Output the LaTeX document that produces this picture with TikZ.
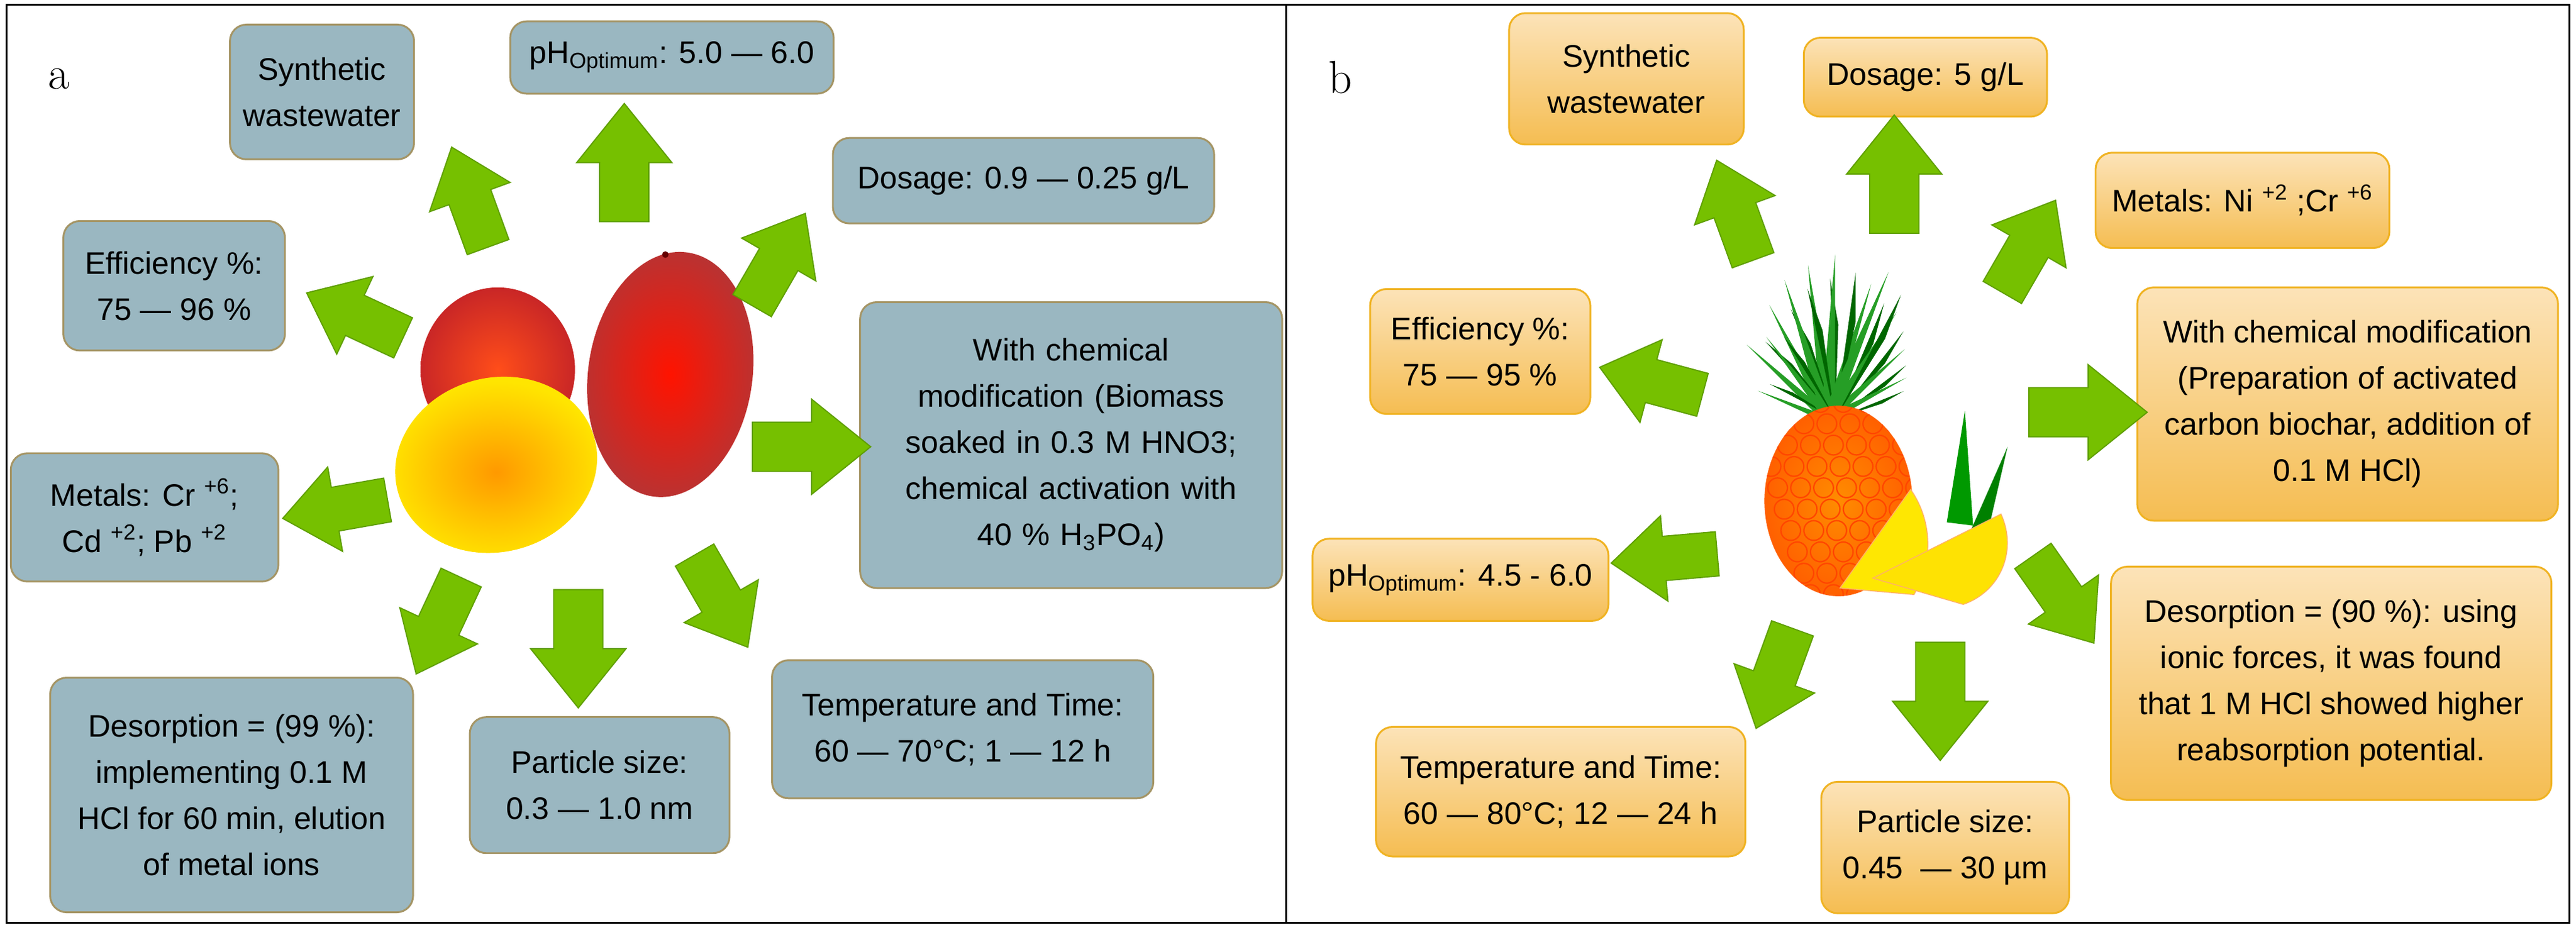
\documentclass[tikz,border=0pt]{standalone}
\usepackage{fontspec}
\setmainfont{Liberation Sans}
\newfontfamily\lbl{Latin Modern Roman}
\definecolor{gr}{HTML}{76C000}
\definecolor{grd}{HTML}{5E9E00}
\definecolor{bbox}{HTML}{9AB7C1}
\definecolor{bbord}{HTML}{A59565}
\definecolor{otop}{HTML}{FCE3B8}
\definecolor{obot}{HTML}{F5BD52}
\definecolor{obord}{HTML}{F0B323}
\begin{document}
\begin{tikzpicture}[x=0.025cm,y=-0.025cm,
  txt/.style={align=center,font=\fontsize{13.5}{20}\selectfont,rounded corners=0.25cm,inner sep=2pt},
  ba/.style={txt,fill=bbox,draw=bbord,line width=0.8pt},
  bb/.style={txt,top color=otop,bottom color=obot,draw=obord,line width=0.8pt},
  garrow/.pic={\filldraw[fill=gr,draw=grd,line width=0.5pt] (-36,-15) -- (0,-15) -- (0,-29) -- (36,0) -- (0,29) -- (0,15) -- (-36,15) -- cycle;}]
\useasboundingbox (0,0) rectangle (1568,566.2);
\draw[line width=0.8pt] (4,3) rectangle (1564,562);
\draw[line width=0.8pt] (783,3) -- (783,562);
\node[font=\lbl\fontsize{20}{20}\selectfont] (la) at (36,48) {a};
\node[font=\lbl\fontsize{20}{20}\selectfont] (lb) at (816,47) {b};

% ---- mangoes (panel a)
\shade[inner color=red!55!orange!90,outer color=red!75!black!85] (303,225) ellipse (47 and 50);
\shade[inner color=red!85!orange,outer color=red!65!black!80] (408,228) [rotate around={-8:(408,228)}] ellipse (50 and 75);
\shade[inner color=orange!80!yellow,outer color=yellow!80!orange] (302,283) [rotate around={15:(302,283)}] ellipse (62 and 53);
\fill[red!40!black] (405,155) circle (2);

% ---- pineapple (panel b)
\foreach \a/\l in {100/95,120/80,140/70,75/85,60/75,45/60,90/100,160/50,30/50,110/90,70/95,130/65}{
  \fill[green!40!black] (1117,255) -- ++(-\a+8:\l*0.9) -- ++(-\a+180:\l*0.3) -- cycle;
  \fill[green!55!black!85] (1117,255) -- ++(-\a:\l) -- ++(-\a+185:\l*0.9) -- cycle;
}
\begin{scope}
\clip (1119,305) ellipse (45 and 58);
\shade[inner color=orange!90!yellow,outer color=orange!75!red] (1119,305) ellipse (45 and 58);
\foreach \i in {0,...,7}{\foreach \j in {0,...,9}{
  \draw[orange!55!red,line width=0.6pt] (1066+\i*14+\j*4,245+\j*13) circle (6);}}
\end{scope}
\fill[green!60!black] (1185,318) -- (1196,250) -- (1201,320) -- cycle;
\fill[green!50!black] (1200,322) -- (1222,272) -- (1210,324) -- cycle;
\fill[yellow!90!orange,draw=orange!60] (1120,358) -- (1163,298) .. controls (1175,315) and (1178,340) .. (1165,362) -- cycle;
\fill[yellow!85!orange,draw=orange!60] (1140,352) -- (1218,313) .. controls (1228,335) and (1218,360) .. (1195,368) -- cycle;

% ---- panel a boxes
\node[ba,minimum width=2.8cm,minimum height=2.05cm] (asyn) at (196,56) {Synthetic\\wastewater};
\node[ba,minimum width=4.92cm,minimum height=1.1cm] (aph) at (409,35) {pH\textsubscript{Optimum}: 5.0 — 6.0};
\node[ba,minimum width=5.8cm,minimum height=1.3cm] (ados) at (623,110) {Dosage: 0.9 — 0.25 g/L};
\node[ba,minimum width=3.37cm,minimum height=1.97cm] (aeff) at (106,174) {Efficiency \%:\\75 — 96 \%};
\node[ba,minimum width=6.42cm,minimum height=4.35cm,text width=6.2cm] (achem) at (652,271) {With chemical\\modification (Biomass\\soaked in 0.3 M HNO3;\\chemical activation with\\40 \% H\textsubscript{3}PO\textsubscript{4})};
\node[ba,minimum width=4.07cm,minimum height=1.95cm] (amet) at (88,315) {Metals: Cr \textsuperscript{+6};\\Cd \textsuperscript{+2}; Pb \textsuperscript{+2}};
\node[ba,minimum width=5.52cm,minimum height=3.57cm] (ades) at (141,484) {Desorption = (99 \%):\\implementing 0.1 M\\HCl for 60 min, elution\\of metal ions};
\node[ba,minimum width=3.95cm,minimum height=2.07cm] (apar) at (365,478) {Particle size:\\0.3 — 1.0 nm};
\node[ba,minimum width=5.8cm,minimum height=2.1cm] (atmp) at (586,444) {Temperature and Time:\\60 — 70°C; 1 — 12 h};

% ---- panel a arrows
\pic[rotate=110,scale=0.9] at (286,120) {garrow};
\pic[rotate=90] at (380,99) {garrow};
\pic[rotate=60,scale=0.9] at (474,158) {garrow};
\pic[rotate=155,scale=0.9] at (216,192) {garrow};
\pic[rotate=0] at (494,272) {garrow};
\pic[rotate=190,scale=0.9] at (204,310) {garrow};
\pic[rotate=245,scale=0.9] at (267,381) {garrow};
\pic[rotate=270] at (352,395) {garrow};
\pic[rotate=300,scale=0.9] at (439,366) {garrow};

% ---- panel b boxes
\node[bb,minimum width=3.57cm,minimum height=2cm] (bsyn) at (990,48) {Synthetic\\wastewater};
\node[bb,minimum width=3.7cm,minimum height=1.2cm] (bdos) at (1172,47) {Dosage: 5 g/L};
\node[bb,minimum width=4.47cm,minimum height=1.45cm] (bmet) at (1365,122) {Metals: Ni \textsuperscript{+2} ;Cr \textsuperscript{+6}};
\node[bb,minimum width=3.35cm,minimum height=1.9cm] (beff) at (901,214) {Efficiency \%:\\75 — 95 \%};
\node[bb,minimum width=6.4cm,minimum height=3.55cm] (bchem) at (1429,246) {With chemical modification\\(Preparation of activated\\carbon biochar, addition of\\0.1 M HCl)};
\node[bb,minimum width=4.5cm,minimum height=1.25cm] (bph) at (889,353) {pH\textsubscript{Optimum}: 4.5 - 6.0};
\node[bb,minimum width=6.7cm,minimum height=3.55cm] (bdes) at (1419,416) {Desorption = (90 \%): using\\ionic forces, it was found\\that 1 M HCl showed higher\\reabsorption potential.};
\node[bb,minimum width=5.62cm,minimum height=1.97cm] (btmp) at (950,482) {Temperature and Time:\\60 — 80°C; 12 — 24 h};
\node[bb,minimum width=3.77cm,minimum height=2cm] (bpar) at (1184,516) {Particle size:\\0.45 \ — 30 µm};

% ---- panel b arrows
\pic[rotate=110,scale=0.9] at (1056,128) {garrow};
\pic[rotate=90] at (1153,106) {garrow};
\pic[rotate=60,scale=0.9] at (1235,150) {garrow};
\pic[rotate=165,scale=0.9] at (1005,232) {garrow};
\pic[rotate=0] at (1271,251) {garrow};
\pic[rotate=185,scale=0.9] at (1013,340) {garrow};
\pic[rotate=250,scale=0.9] at (1080,413) {garrow};
\pic[rotate=270] at (1181,427) {garrow};
\pic[rotate=305,scale=0.9] at (1256,365) {garrow};
\end{tikzpicture}
\end{document}
